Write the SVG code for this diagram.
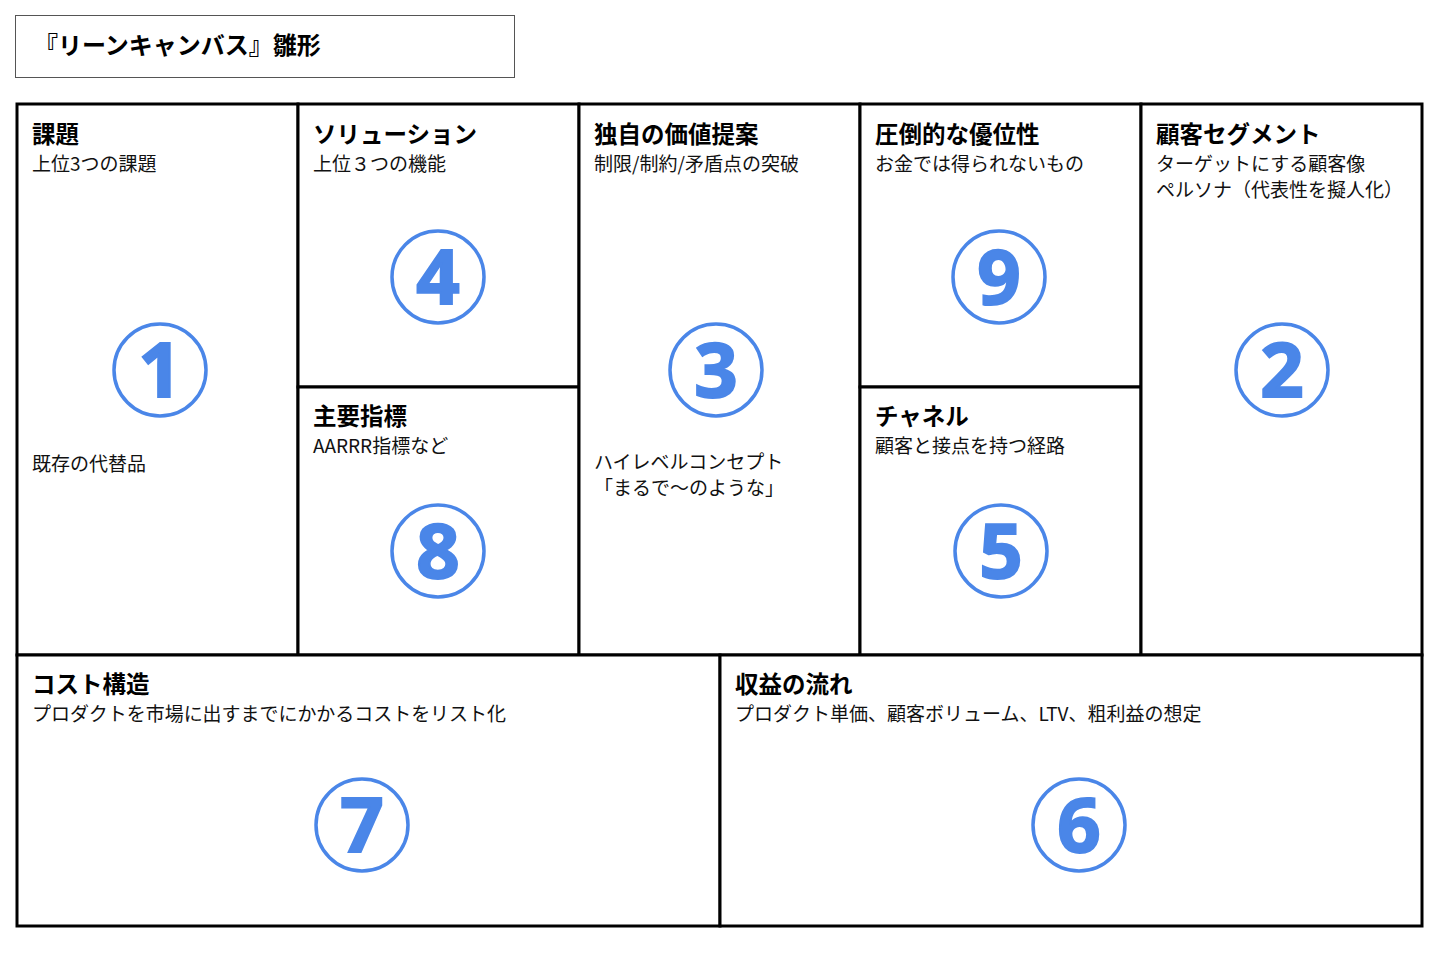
<svg xmlns="http://www.w3.org/2000/svg" width="1440" height="960" viewBox="0 0 1440 960">
<style>
.cell{fill:#fff;stroke:#000;stroke-width:3}
.ttl{font-family:"Noto Sans CJK JP","Noto Sans",sans-serif;font-weight:700;font-size:23.5px;fill:#000}
.sub{font-family:"Noto Sans CJK JP","Noto Sans",sans-serif;font-weight:400;font-size:19px;fill:#111}
.ring{fill:none;stroke:#4a86e8;stroke-width:3.5}
.num{font-family:"Noto Sans","Open Sans",sans-serif;font-weight:700;font-size:76px;fill:#4a86e8;stroke:#4a86e8;stroke-width:2;text-anchor:middle}
</style>
<rect width="1440" height="960" fill="#fff"/>
<g id="title">
<rect x="15.5" y="15.5" width="499" height="62" fill="#fff" stroke="#555" stroke-width="1"/>
<text x="34" y="54" class="ttl" style="font-size:24px">『リーンキャンバス』雛形</text>
</g>
<g id="problem">
<rect class="cell" x="17" y="104" width="281" height="551"/>
<text x="32" y="143" class="ttl">課題</text>
<text x="32" y="171" class="sub">上位3つの課題</text>
<text x="32" y="471" class="sub">既存の代替品</text>
<circle class="ring" cx="160" cy="370" r="46"/>
<text x="160" y="397" class="num">1</text>
</g>
<g id="solution">
<rect class="cell" x="298" y="104" width="281" height="283"/>
<text x="313" y="143" class="ttl">ソリューション</text>
<text x="313" y="171" class="sub">上位３つの機能</text>
<circle class="ring" cx="438" cy="277" r="46"/>
<text x="438" y="304" class="num">4</text>
</g>
<g id="metrics">
<rect class="cell" x="298" y="387" width="281" height="268"/>
<text x="313" y="425" class="ttl">主要指標</text>
<text x="313" y="453" class="sub">AARRR指標など</text>
<circle class="ring" cx="438" cy="551" r="46"/>
<text x="438" y="578" class="num">8</text>
</g>
<g id="uvp">
<rect class="cell" x="579" y="104" width="281" height="551"/>
<text x="594" y="143" class="ttl">独自の価値提案</text>
<text x="594" y="171" class="sub">制限/制約/矛盾点の突破</text>
<text class="sub"><tspan x="594" y="469">ハイレベルコンセプト</tspan><tspan x="594" y="495">「まるで〜のような」</tspan></text>
<circle class="ring" cx="716" cy="370" r="46"/>
<text x="716" y="397" class="num">3</text>
</g>
<g id="advantage">
<rect class="cell" x="860" y="104" width="281" height="283"/>
<text x="875" y="143" class="ttl">圧倒的な優位性</text>
<text x="875" y="171" class="sub">お金では得られないもの</text>
<circle class="ring" cx="999" cy="277" r="46"/>
<text x="999" y="304" class="num">9</text>
</g>
<g id="channels">
<rect class="cell" x="860" y="387" width="281" height="268"/>
<text x="875" y="425" class="ttl">チャネル</text>
<text x="875" y="453" class="sub">顧客と接点を持つ経路</text>
<circle class="ring" cx="1001" cy="551" r="46"/>
<text x="1001" y="578" class="num">5</text>
</g>
<g id="segments">
<rect class="cell" x="1141" y="104" width="281" height="551"/>
<text x="1156" y="143" class="ttl">顧客セグメント</text>
<text class="sub"><tspan x="1156" y="171">ターゲットにする顧客像</tspan><tspan x="1156" y="197">ペルソナ（代表性を擬人化）</tspan></text>
<circle class="ring" cx="1282" cy="370" r="46"/>
<text x="1282" y="397" class="num">2</text>
</g>
<g id="cost">
<rect class="cell" x="17" y="655" width="703" height="271"/>
<text x="32" y="693" class="ttl">コスト構造</text>
<text x="32" y="721" class="sub" textLength="474">プロダクトを市場に出すまでにかかるコストをリスト化</text>
<circle class="ring" cx="362" cy="825" r="46"/>
<text x="362" y="852" class="num">7</text>
</g>
<g id="revenue">
<rect class="cell" x="720" y="655" width="702" height="271"/>
<text x="735" y="693" class="ttl">収益の流れ</text>
<text x="735" y="721" class="sub">プロダクト単価、顧客ボリューム、LTV、粗利益の想定</text>
<circle class="ring" cx="1079" cy="825" r="46"/>
<text x="1079" y="852" class="num">6</text>
</g>
<g id="connectors"></g>
</svg>
